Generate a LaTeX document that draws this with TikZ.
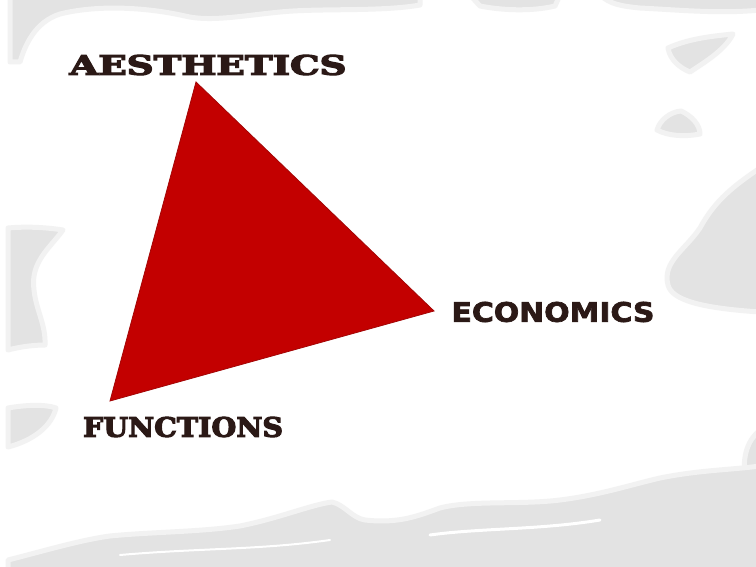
\documentclass[tikz,border=0pt]{standalone}
\usepackage{graphicx}
\usepackage{fontspec}
\newfontfamily\slabfont[FakeBold=4]{DejaVu Serif Bold}
\newfontfamily\heavysans[FakeBold=2.5]{DejaVu Sans Bold}
\definecolor{txt}{HTML}{2B1916}
\definecolor{tri}{HTML}{C30000}
\definecolor{triedge}{HTML}{A30606}
\tikzset{
  blob/.style={fill=gray!22, draw=gray!10, line width=5pt, line join=round},
  lbl/.style={inner sep=0pt, text=txt, anchor=center}
}
\begin{document}
\begin{tikzpicture}[x=1pt,y=-1pt]
\useasboundingbox (0,0) rectangle (756,567);
\fill[white] (0,0) rectangle (756,567);
% top band
\path[blob] (10,-5) -- (420,-5) -- (420,5) .. controls (380,12) and (320,8) .. (280,12)
  .. controls (240,16) and (210,22) .. (185,16) .. controls (150,8) and (100,4) .. (60,14)
  .. controls (35,22) and (25,45) .. (20,62) -- (10,62) -- cycle;
\path[blob] (470,-5) -- (560,-5) -- (555,6) .. controls (530,12) and (500,10) .. (480,6) -- cycle;
\path[blob] (600,-5) -- (760,-5) -- (760,10) .. controls (720,14) and (680,10) .. (640,8) .. controls (620,6) and (610,4) .. (600,-5) -- cycle;
% hourglass
\path[blob] (668,48) .. controls (690,38) and (715,36) .. (733,34) .. controls (725,50) and (705,62) .. (690,72) .. controls (680,68) and (670,60) .. (668,48) -- cycle;
\path[blob] (657,130) .. controls (660,120) and (670,112) .. (681,111) .. controls (692,116) and (700,125) .. (700,134) .. controls (685,137) and (668,136) .. (657,130) -- cycle;
% right big blob
\path[blob] (760,168) .. controls (735,185) and (715,200) .. (700,228)
  .. controls (685,250) and (662,262) .. (668,285) .. controls (672,300) and (700,308) .. (760,312) -- cycle;
% right lower
\path[blob] (760,430) .. controls (748,440) and (742,455) .. (745,480) .. controls (748,495) and (752,505) .. (760,510) -- cycle;
% left blobs
\path[blob] (8,228) .. controls (30,226) and (50,228) .. (63,230) .. controls (50,248) and (30,262) .. (34,290)
  .. controls (36,310) and (46,325) .. (45,345) .. controls (30,345) and (15,348) .. (8,350) -- cycle;
\path[blob] (8,408) .. controls (25,405) and (45,404) .. (56,408) .. controls (52,425) and (35,440) .. (8,447) -- cycle;
% bottom band
\path[blob] (8,572) -- (8,560) .. controls (40,552) and (80,540) .. (110,536)
  .. controls (150,532) and (200,532) .. (240,526) .. controls (280,518) and (310,505) .. (332,502)
  .. controls (345,505) and (352,518) .. (365,520) .. controls (400,524) and (420,515) .. (440,508)
  .. controls (470,500) and (520,505) .. (560,500) .. controls (600,495) and (630,485) .. (660,478)
  .. controls (700,470) and (730,470) .. (760,466) -- (760,572) -- cycle;
\path[draw=white, line width=3pt, line cap=round] (430,535) .. controls (480,528) and (540,530) .. (600,520);
\path[draw=white, line width=2pt, line cap=round] (120,555) .. controls (200,548) and (260,550) .. (330,540);
% triangle
\coordinate (A) at (196,82);
\coordinate (E) at (434,311);
\coordinate (F) at (110,401);
\fill[tri, draw=triedge, line width=0.8pt, line join=miter] (A) -- (E) -- (F) -- cycle;
% labels
\node[lbl] (aes) at (208,65) {\resizebox{277pt}{20pt}{\slabfont AESTHETICS}};
\node[lbl] (eco) at (553,312) {\resizebox{203pt}{20pt}{\heavysans ECONOMICS}};
\node[lbl] (fun) at (183,427) {\resizebox{200pt}{20pt}{\slabfont FUNCTIONS}};
\end{tikzpicture}
\end{document}
